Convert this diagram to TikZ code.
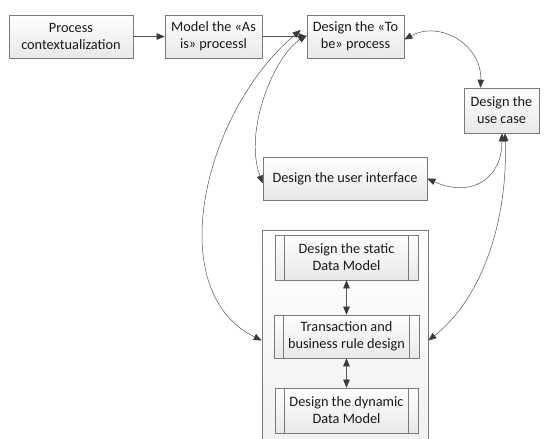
\documentclass[tikz,border=0pt]{standalone}
\usepackage{fontspec}
\setmainfont{Carlito}
\usetikzlibrary{arrows.meta}
\definecolor{edge}{HTML}{7A7A7A}
\definecolor{wire}{HTML}{555555}
\definecolor{headc}{HTML}{3A3A3A}
\tikzset{
  box/.style={draw=edge, line width=0.6pt, top color=white, bottom color=black!9,
    rectangle, inner sep=0pt, align=center, text=black!90,
    font=\fontsize{14.3}{17}\selectfont},
  subbox/.style={box},
  frame/.style={draw=edge, line width=0.6pt, top color=white, bottom color=black!6, inner sep=0pt},
  link/.style={draw=wire, line width=0.5pt, {Triangle[length=8pt,width=6.5pt,fill=headc,color=headc]}-{Triangle[length=8pt,width=6.5pt,fill=headc,color=headc]}},
  onelink/.style={draw=wire, line width=0.5pt, -{Triangle[length=8pt,width=6.5pt,fill=headc,color=headc]}}
}
\begin{document}
\begin{tikzpicture}[x=1pt,y=-1pt]
\useasboundingbox (0,0) rectangle (550,439);
\clip (0,0) rectangle (550,439);
% top row
\node[box, minimum width=124pt, minimum height=43pt] (b1) at (71,36.5) {Process\\contextualization};
\node[box, minimum width=97pt, minimum height=43pt] (b2) at (213.5,36.5) {Model the «As\\is» processl};
\node[box, minimum width=97pt, minimum height=43pt] (b3) at (355.5,36.5) {Design the «To\\be» process};
\node[box, minimum width=75pt, minimum height=45pt] (b4) at (501.5,110.5) {Design the\\use case};
\node[box, minimum width=164pt, minimum height=43pt] (b5) at (345,178.5) {Design the user interface};
% container
\node[frame, minimum width=166pt, minimum height=225pt] (ct) at (345,342.5) {};
\node[subbox, minimum width=143pt, minimum height=45pt] (s1) at (346.5,257.5) {Design the static\\Data Model};
\node[subbox, minimum width=145pt, minimum height=43pt] (s2) at (346.5,336.5) {Transaction and\\business rule design};
\node[subbox, minimum width=143pt, minimum height=45pt] (s3) at (346.5,410.5) {Design the dynamic\\Data Model};
\foreach \s in {s1,s2,s3}{
  \draw[draw=edge, line width=0.5pt] ([xshift=10pt]\s.north west) -- ([xshift=10pt]\s.south west);
  \draw[draw=edge, line width=0.5pt] ([xshift=-10pt]\s.north east) -- ([xshift=-10pt]\s.south east);
}
% straight arrows
\draw[onelink] (b1) -- (b2);
\draw[onelink] (b2) -- (b3);
\draw[link] (s1) -- (s2);
\draw[link] (s2) -- (s3);
% curved links
\coordinate (b3e) at ([yshift=-3pt]b3.east);
\coordinate (b4n) at ([xshift=-21pt]b4.north);
\draw[link] (b3e) .. controls (440,20) and (482,45) .. (b4n);
\coordinate (b4s1) at ([xshift=0.5pt]b4.south);
\coordinate (b4s2) at ([xshift=3.5pt]b4.south);
\draw[link] (b4s1) .. controls (502,180) and (470,198) .. (b5.east);
\draw[link] (b4s2) .. controls (508,225) and (480,300) .. ([yshift=-4pt]ct.east |- s2.center);
\coordinate (b3w1) at ([yshift=1pt]b3.west);
\coordinate (b3w2) at ([xshift=-6pt,yshift=6.5pt]b3.west);
\draw[link] (b3w1) .. controls (275,55) and (243,130) .. ([yshift=-5pt]b5.west);
\draw[link] (b3w2) .. controls (205,110) and (160,290) .. ([yshift=-4pt]ct.west |- s2.center);
\end{tikzpicture}
\end{document}
